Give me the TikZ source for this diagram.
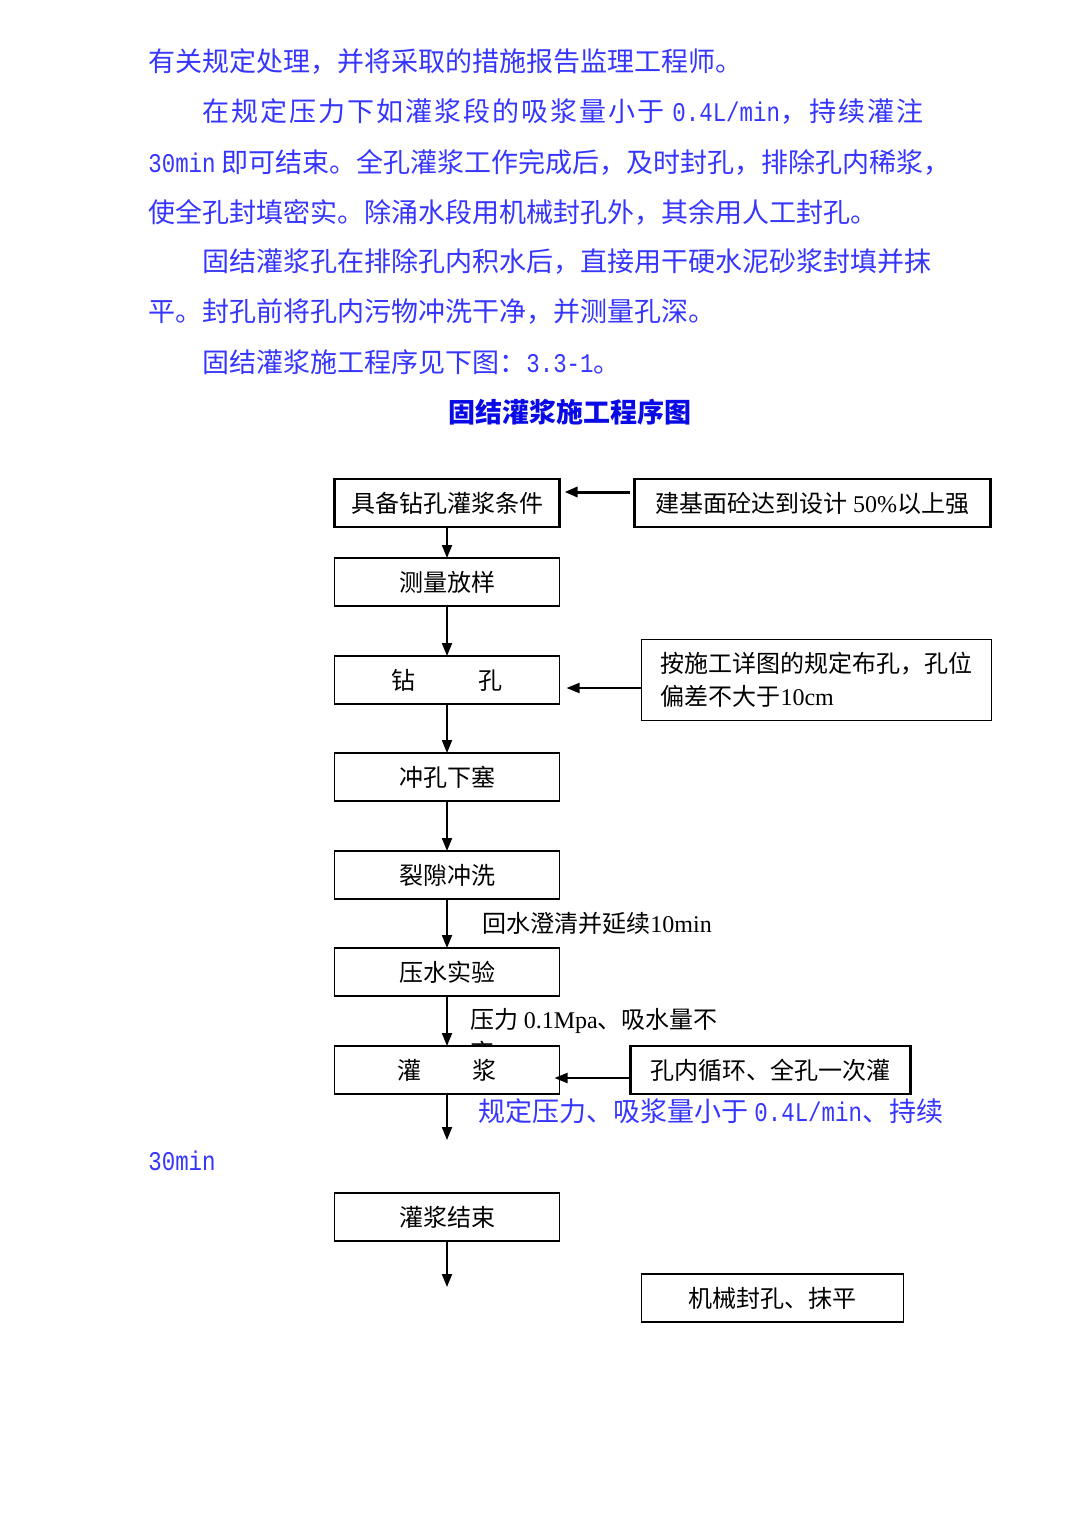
\documentclass[tikz,border=0pt]{standalone}
\usepackage{fontspec}
\setmainfont{Noto Sans CJK SC}
\newfontfamily\timesfont{Liberation Serif}
\newfontfamily\latinmono{Liberation Mono}[FakeStretch=0.83]
\usepackage{tikz}
\usetikzlibrary{arrows.meta, positioning}
\usepackage{xcolor}
\definecolor{textblue}{HTML}{3535FF}
\definecolor{headblue}{HTML}{0A0AE6}
% a little extra room after every character
\def\spacedchars#1{\spacedloop#1\relax}
\def\spacedloop#1{\ifx\relax#1\else#1\kern1pt\relax\expandafter\spacedloop\fi}

\begin{document}
\begin{tikzpicture}[
    x=0.5pt, y=-0.5pt,
    node distance=25pt and 37.5pt,
    every node/.style={inner sep=0pt, font=\fontsize{12}{16.5}\selectfont},
    block/.style={rectangle, draw, line width=0.8pt, outer sep=0pt, fill=white, minimum width=112.5pt, minimum height=24pt, align=center},
    sidebox/.style={rectangle, draw, line width=0.8pt, outer sep=0pt, fill=white, minimum height=24pt, align=center},
    heavy/.style={line width=1.1pt},
    bodytext/.style={anchor=west, text=textblue, font=\fontsize{13.5}{16}\selectfont},
    headline/.style={text=headblue, font=\fontsize{13.5}{16}\selectfont\bfseries},
    note/.style={anchor=west},
    arrow/.style={-{Triangle[length=6.5pt, width=5pt]}, line width=1pt},
    sidearrow/.style={-{Triangle[length=6.5pt, width=5pt]}, line width=1pt},
]
\useasboundingbox (0,0) rectangle (1087,1536);

% Text above the chart
\node[bodytext] (p1) at (148,62) {有关规定处理，并将采取的措施报告监理工程师。};
\node[bodytext] (p2) at (202,112) {\spacedchars{在规定压力下如灌浆段的吸浆量小于} {\latinmono 0.4L/min}\spacedchars{，持续灌注}};
\node[bodytext] (p3) at (148,162) {{\latinmono 30min} 即可结束。全孔灌浆工作完成后，及时封孔，排除孔内稀浆，};
\node[bodytext] (p4) at (148,212) {使全孔封填密实。除涌水段用机械封孔外，其余用人工封孔。};
\node[bodytext] (p5) at (202,262) {固结灌浆孔在排除孔内积水后，直接用干硬水泥砂浆封填并抹};
\node[bodytext] (p6) at (148,312) {平。封孔前将孔内污物冲洗干净，并测量孔深。};
\node[bodytext] (p7) at (202,362) {固结灌浆施工程序见下图：{\latinmono 3.3-1}。};
\node[headline] (head) at (570,412) {固结灌浆施工程序图};

% Main column
\node[block, heavy] (ready) at (447,503) {具备钻孔灌浆条件};
\node[block, below=15.5pt of ready] (survey) {测量放样};
\node[block, below=25pt of survey] (drill) {钻\hspace{2.6em}孔};
\node[block, below=24.5pt of drill] (flush) {冲孔下塞};
\node[block, below=25pt of flush] (wash) {裂隙冲洗};
\node[block, below=24.5pt of wash] (press) {压水实验};

% Labels on the column
\node[note] (washnote) at (482,923) {回水澄清并延续{\timesfont 10min}};
\node[anchor=north west, align=left] (pressnote) at (470,1008) {压力 {\timesfont 0.1Mpa}、吸水量不\\[0pt]变};

\node[block, below=25pt of press] (grout) {灌\hspace{2.1em}浆};
\coordinate[below=23pt of grout] (groutend);
\node[block, below=49.5pt of grout] (finish) {灌浆结束};
\coordinate[below=23pt of finish] (finishend);

% Side boxes
\node[sidebox, heavy, right=37.5pt of ready, minimum width=178pt] (strength) {建基面砼达到设计 {\timesfont 50\%}以上强};
\node[sidebox, right=41pt of drill, minimum width=175pt, minimum height=40.5pt, align=left] (layout) {按施工详图的规定布孔，孔位\\偏差不大于{\timesfont 10cm}};
\node[sidebox, heavy, right=35.5pt of grout, minimum width=140pt] (circ) {孔内循环、全孔一次灌};
\node[sidebox, below right=16.5pt and 41pt of finish, minimum width=131pt] (seal) {机械封孔、抹平};

% Text below the chart
\node[bodytext] (p8) at (478,1111) {规定压力、吸浆量小于 {\latinmono 0.4L/min}、持续};
\node[bodytext] (p9) at (148,1161) {{\latinmono 30min}};

% Arrows
\draw[arrow] (ready) -- (survey);
\draw[arrow] (survey) -- (drill);
\draw[arrow] (drill) -- (flush);
\draw[arrow] (flush) -- (wash);
\draw[arrow] (wash) -- (press);
\draw[arrow] (press) -- (grout);
\draw[arrow] (grout) -- (groutend);
\draw[arrow] (finish) -- (finishend);

\draw[sidearrow, line width=1.5pt, shorten <=2.5pt, shorten >=2.5pt] ([yshift=5.5pt]strength.west) -- ([yshift=5.5pt]ready.east);
\draw[sidearrow, shorten >=3.5pt] ([yshift=-4pt]layout.west) -- ([yshift=-4pt]drill.east);
\draw[sidearrow, shorten >=-2.5pt] ([yshift=-4pt]circ.west) -- ([yshift=-4pt]grout.east);

\end{tikzpicture}
\end{document}
